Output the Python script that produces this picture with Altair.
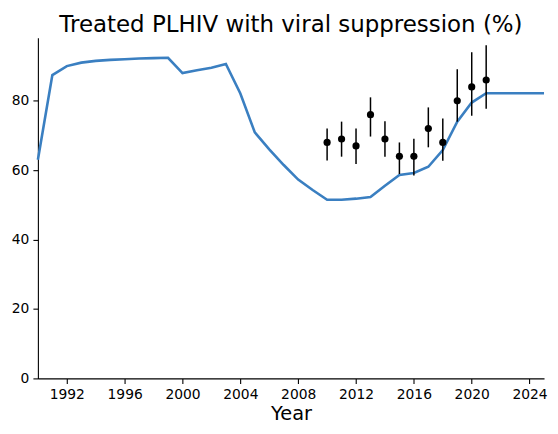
import altair as alt
import pandas as pd

line_years = list(range(1990, 2026))
line_values = [63.0, 87.4, 90.0, 91.0, 91.5, 91.8, 92.0, 92.2, 92.3, 92.4,
               88.0, 88.8, 89.5, 90.6, 82.1, 70.9, 66.0, 61.5, 57.3, 54.3,
               51.5, 51.5, 51.8, 52.3, 55.5, 58.6, 59.2, 61.0, 65.8, 74.0,
               79.5, 82.2, 82.2, 82.2, 82.2, 82.2]

obs_years = [2010, 2011, 2012, 2013, 2014, 2015, 2016, 2017, 2018, 2019, 2020, 2021]
obs_values = [68, 69, 67, 76, 69, 64, 64, 72, 68, 80, 84, 86]
obs_low = [62.8, 63.9, 61.8, 69.7, 63.9, 58.9, 58.5, 66.6, 62.7, 74.0, 75.7, 77.7]
obs_high = [72.0, 74.0, 72.0, 81.0, 74.1, 68.0, 69.1, 78.1, 74.9, 89.1, 94.0, 96.0]

x_ticks = list(range(1992, 2025, 4))
y_ticks = [0, 20, 40, 60, 80]

line_df = pd.DataFrame({"year": line_years, "value": line_values})
obs_df = pd.DataFrame({"year": obs_years, "value": obs_values,
                       "low": obs_low, "high": obs_high})

FONT = "DejaVu Sans"
x_scale = alt.Scale(domain=[1990, 2025], nice=False, zero=False)
y_scale = alt.Scale(domain=[0, 98.2], nice=False, zero=True)

x_axis = alt.Axis(values=x_ticks, format="d", title="Year", grid=False,
                  tickSize=5, tickWidth=1.1, domainWidth=1.1,
                  labelPadding=4, labelFontSize=13.9, labelFont=FONT,
                  labelColor="black", domainColor="black", tickColor="black",
                  titleFont=FONT, titleFontSize=19.4, titleFontWeight="normal",
                  titleColor="black", titleY=41, titleBaseline="alphabetic",
                  labelFlush=False)
y_axis = alt.Axis(values=y_ticks, title=None, grid=False,
                  tickSize=5, tickWidth=1.1, domainWidth=1.1,
                  labelPadding=4, labelFontSize=13.9, labelFont=FONT,
                  labelColor="black", domainColor="black", tickColor="black",
                  labelFlush=False)

line = alt.Chart(line_df).mark_line(color="#3a7fc1", strokeWidth=2.6).encode(
    x=alt.X("year:Q", scale=x_scale, axis=x_axis),
    y=alt.Y("value:Q", scale=y_scale, axis=y_axis),
)

rules = alt.Chart(obs_df).mark_rule(color="black", strokeWidth=1.5).encode(
    x=alt.X("year:Q", scale=x_scale),
    y=alt.Y("low:Q", scale=y_scale),
    y2="high:Q",
)

points = alt.Chart(obs_df).mark_circle(color="black", opacity=1, size=52).encode(
    x=alt.X("year:Q", scale=x_scale),
    y=alt.Y("value:Q", scale=y_scale),
)

chart = alt.layer(line, rules, points).properties(
    width=508,
    height=342,
    title=alt.TitleParams("Treated PLHIV with viral suppression (%)",
                          font=FONT, fontSize=23, fontWeight="normal",
                          color="black", anchor="middle", offset=3,
                          baseline="bottom", dy=25),
    autosize=alt.AutoSizeParams(type="none"),
    padding={"left": 30, "top": 29, "right": 6, "bottom": 47},
).configure_view(stroke=None)

chart.save("out.html", embed_options={"renderer": "svg", "actions": False})
